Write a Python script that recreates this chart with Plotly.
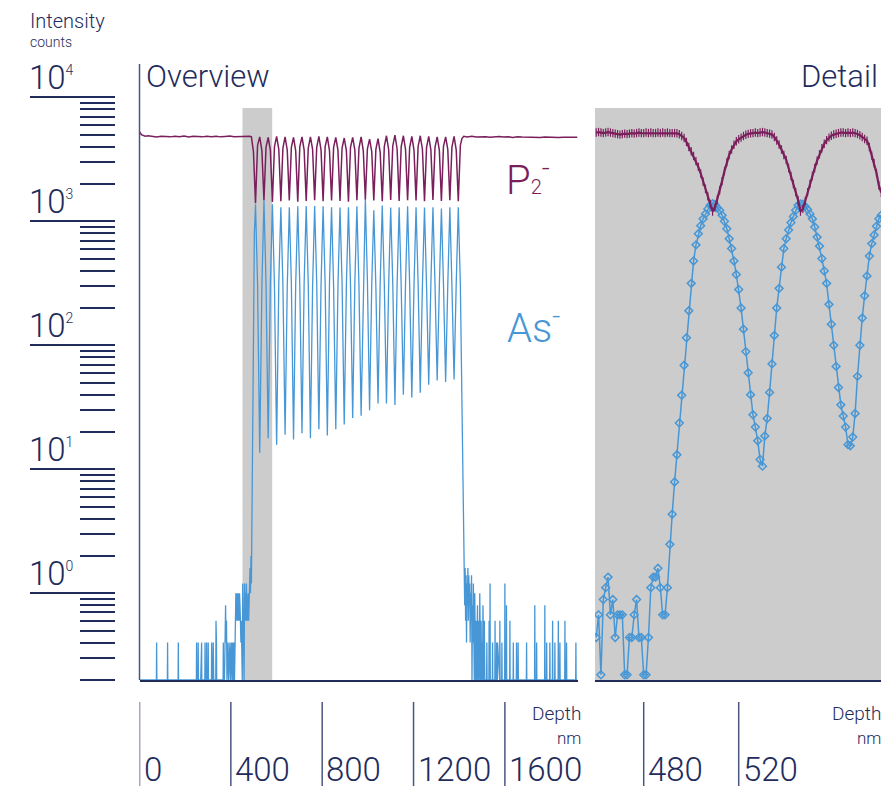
import plotly.graph_objects as go

# ---------------- colours / fonts ----------------
NAVY = "#1f2c5c"
AXIS_V = "#4b5680"
P2_COLOR = "#7a1f5c"
AS_COLOR = "#4797d6"
GRAY = "#cccccc"
FONT = "Roboto"
W, H = 883, 790

# ---------------- data: overview ----------------
# P2- before the superlattice (depth nm, counts)
ov_p2_pre_depth = [0, 3, 8, 15, 25, 38, 55, 75, 95, 115, 135, 155, 175, 195, 215,
                   235, 255, 275, 295, 315, 335, 355, 375, 395, 415, 435, 455, 470, 482, 490, 499]
ov_p2_pre = [5150, 5200, 5000, 4950, 4850, 4900, 4850, 4800, 4850, 4830, 4800, 4850, 4820, 4870, 4800,
             4850, 4830, 4800, 4860, 4820, 4850, 4800, 4840, 4870, 4820, 4850, 4880, 4840, 4860, 4800, 3650]

# superlattice: depth of P2 minima (= As maxima), rising flank, P2 maxima (= As minima), falling flank
sl_min_depth = [508, 545, 582, 619, 656, 693, 730, 767, 804, 841, 878, 915, 952, 989, 1026,
                1063, 1100, 1137, 1174, 1211, 1248, 1285, 1322, 1359, 1396]
sl_rise_depth = [517, 554, 591, 628, 665, 702, 739, 776, 813, 850, 887, 924, 961, 998,
                 1035, 1072, 1109, 1146, 1183, 1220, 1257, 1294, 1331, 1368]
sl_max_depth = [526.5, 563.5, 600.5, 637.5, 674.5, 711.5, 748.5, 785.5, 822.5, 859.5, 896.5, 933.5,
                970.5, 1007.5, 1044.5, 1081.5, 1118.5, 1155.5, 1192.5, 1229.5, 1266.5, 1303.5, 1340.5, 1377.5]
sl_fall_depth = [536, 573, 610, 647, 684, 721, 758, 795, 832, 869, 906, 943, 980, 1017,
                 1054, 1091, 1128, 1165, 1202, 1239, 1276, 1313, 1350, 1387]

sl_p2_min = [1400, 1480, 1430, 1450, 1470, 1440, 1460, 1480, 1450, 1470, 1460, 1440, 1480,
             1500, 1470, 1450, 1490, 1460, 1480, 1470, 1450, 1490, 1460, 1480, 1450]
sl_p2_rise = [4100, 3950, 4000, 3900, 3950, 4000, 3900, 3950, 4000, 3950, 3900, 3950,
              3900, 3850, 3800, 4000, 4050, 4000, 3950, 4000, 3950, 3950, 4000, 3950]
sl_p2_max = [4800, 4750, 4850, 4800, 4750, 4800, 4800, 4850, 4800, 4750, 4700, 4750,
             4800, 4600, 4650, 4900, 4950, 4900, 4850, 4900, 4850, 4800, 4800, 4850]
sl_p2_fall = [3700, 3750, 3800, 3750, 3700, 3750, 3800, 3750, 3700, 3750, 3700, 3750,
              3700, 3650, 3600, 3800, 3850, 3800, 3750, 3800, 3750, 3750, 3800, 3750]

sl_as_max = [1370, 1480, 1370, 1300, 1300, 1320, 1330, 1330, 1320, 1300, 1290, 1300, 1320,
             1520, 1230, 1340, 1290, 1300, 1320, 1300, 1290, 1300, 1270, 1300, 1300]
sl_as_rise = [310, 320, 300, 310, 320, 300, 310, 320, 310, 300, 320, 310,
              300, 330, 300, 310, 320, 300, 310, 320, 300, 310, 320, 310]
sl_as_min = [13.6, 17.8, 15.8, 19, 17.4, 19.5, 17.8, 21, 18.7, 21, 23, 25.9,
             27, 30, 34, 34, 33, 40, 38, 41.5, 48, 52, 50.5, 53]
sl_as_fall = [300, 310, 320, 300, 310, 320, 300, 310, 320, 300, 310, 320,
              300, 310, 320, 300, 310, 320, 300, 310, 320, 300, 310, 320]

# P2- after the superlattice
ov_p2_post_depth = [1405, 1412, 1420, 1435, 1455, 1475, 1495, 1515, 1535, 1555, 1575, 1595, 1615, 1635,
                    1655, 1675, 1695, 1715, 1735, 1755, 1775, 1795, 1815, 1835, 1855, 1875, 1895, 1918]
ov_p2_post = [4100, 4650, 4850, 4800, 4850, 4780, 4820, 4800, 4760, 4800, 4830, 4780, 4800, 4750,
              4800, 4780, 4760, 4800, 4780, 4750, 4790, 4760, 4780, 4740, 4770, 4750, 4780, 4760]

# As- noise before the superlattice (depth nm, counts)
ov_as_pre = [
    (0, 0.2), (74, 0.2), (75, 0.4), (76, 0.2), (122, 0.2), (123, 0.4), (124, 0.2),
    (169, 0.2), (170, 0.4), (171, 0.2), (249, 0.2), (250, 0.4), (251, 0.2), (256, 0.2),
    (257, 0.4), (258, 0.2), (268, 0.2), (269, 0.4), (270, 0.2), (272, 0.4), (273, 0.2),
    (286, 0.2), (287, 0.4), (288, 0.2), (293, 0.2), (294, 0.4), (295, 0.2), (300, 0.2),
    (301, 0.4), (302, 0.2), (315, 0.2), (316, 0.4), (318, 0.2), (322, 0.2), (323, 0.4),
    (325, 0.2), (334, 0.2), (335, 0.6), (336, 0.2), (337, 0.4), (338, 0.2), (366, 0.2),
    (367, 0.4), (368, 0.2), (372, 0.2), (373, 0.4), (375, 0.2), (377, 0.8), (379, 0.4),
    (381, 0.6), (383, 0.2), (385, 0.4), (388, 0.4), (390, 0.2), (393, 0.4), (396, 0.4),
    (398, 0.2), (401, 0.4), (403, 0.4), (405, 0.2), (408, 0.4), (410, 0.2), (414, 0.4),
    (416, 0.2), (420, 0.6), (422, 1.0), (424, 0.6), (426, 0.8), (428, 1.0), (430, 0.6),
    (432, 1.0), (434, 0.8), (436, 0.6), (438, 1.0), (440, 0.8), (442, 0.6), (444, 0.4),
    (446, 0.6), (448, 0.4), (450, 0.2), (452, 1.2), (454, 0.6), (456, 0.4), (458, 0.2),
    (460, 1.2), (462, 0.6), (464, 1.0), (466, 0.6), (468, 1.2), (470, 0.8), (472, 0.6),
    (474, 0.8), (476, 1.0), (478, 0.6), (480, 1.2), (482, 0.8), (484, 1.6), (486, 1.0),
    (488, 2.0), (490, 1.2), (492, 4), (494, 13), (496, 40), (499, 190), (503, 800),
]

# As- after the superlattice
ov_as_post = [
    (1405, 310), (1412, 30), (1418, 5), (1422, 1.8), (1424, 0.8), (1426, 1.6), (1428, 0.6),
    (1430, 1.4), (1432, 0.4), (1434, 1.2), (1436, 0.8), (1438, 1.6), (1440, 0.6), (1442, 1.4),
    (1444, 0.8), (1446, 1.2), (1448, 0.4), (1450, 1.0), (1452, 0.6), (1454, 1.4), (1456, 0.2),
    (1458, 0.8), (1460, 0.4), (1462, 1.2), (1464, 0.6), (1466, 0.2), (1468, 1.0), (1470, 0.4),
    (1472, 0.2), (1474, 0.6), (1476, 0.2), (1478, 0.4), (1480, 0.8), (1482, 0.2), (1484, 0.6),
    (1486, 0.4), (1488, 0.2), (1490, 1.0), (1492, 0.4), (1494, 0.2), (1496, 0.6), (1498, 0.2),
    (1500, 0.4), (1502, 0.2), (1504, 0.8), (1506, 0.4), (1508, 0.2), (1510, 0.6), (1512, 0.2),
    (1520, 0.2), (1521, 0.4), (1522, 0.2), (1530, 0.2), (1531, 0.6), (1532, 0.2), (1534, 0.2),
    (1535, 1.2), (1536, 0.2), (1545, 0.2), (1546, 0.4), (1547, 0.2), (1556, 0.2), (1557, 0.6),
    (1558, 0.2), (1563, 0.2), (1564, 0.4), (1565, 0.2), (1567, 0.2), (1568, 0.4), (1577, 0.2),
    (1578, 0.6), (1579, 0.2), (1586, 0.2), (1587, 0.4), (1588, 0.2), (1599, 0.2), (1600, 1.2),
    (1601, 0.2), (1606, 0.2), (1607, 0.8), (1608, 0.2), (1621, 0.2), (1622, 0.6), (1623, 0.2),
    (1636, 0.2), (1637, 0.4), (1638, 0.2), (1650, 0.2), (1651, 0.4), (1652, 0.2), (1657, 0.2),
    (1658, 0.4), (1659, 0.2), (1694, 0.2), (1695, 0.4), (1696, 0.2), (1730, 0.2), (1731, 0.8),
    (1732, 0.2), (1738, 0.2), (1739, 0.4), (1740, 0.2), (1774, 0.2), (1775, 0.8), (1776, 0.2),
    (1782, 0.2), (1783, 0.4), (1784, 0.2), (1796, 0.2), (1797, 0.4), (1798, 0.2), (1808, 0.2),
    (1809, 0.6), (1810, 0.2), (1818, 0.2), (1819, 0.4), (1820, 0.2), (1833, 0.2), (1834, 0.6),
    (1835, 0.2), (1840, 0.2), (1841, 0.4), (1842, 0.2), (1862, 0.2), (1863, 0.6), (1864, 0.2),
    (1869, 0.2), (1870, 0.4), (1871, 0.2), (1910, 0.2), (1911, 0.4), (1912, 0.2), (1918, 0.2),
]

# ---------------- data: detail ----------------
det_depth = [460, 461, 462, 463, 464, 465, 466, 467, 468, 469,
             470, 471, 472, 473, 474, 475, 476, 477, 478, 479,
             480, 481, 482, 483, 484, 485, 486, 487, 488, 489,
             490, 491, 492, 493, 494, 495, 496, 497, 498, 499,
             500, 501, 502, 503, 504, 505, 506, 507, 508, 509,
             510, 511, 512, 513, 514, 515, 516, 517, 518, 519,
             520, 521, 522, 523, 524, 525, 526, 527, 528, 529,
             530, 531, 532, 533, 534, 535, 536, 537, 538, 539,
             540, 541, 542, 543, 544, 545, 546, 547, 548, 549,
             550, 551, 552, 553, 554, 555, 556, 557, 558, 559,
             560, 561, 562, 563, 564, 565, 566, 567, 568, 569,
             570, 571, 572, 573, 574, 575, 576, 577, 578, 579,
             580]
det_p2 = [5200, 5250, 5200, 5150, 5200, 5250, 5200, 5150, 5100, 5050,
          5000, 5050, 5100, 5050, 5100, 5150, 5100, 5150, 5200, 5150,
          5150, 5200, 5150, 5200, 5150, 5150, 5200, 5150, 5200, 5150,
          5200, 5150, 5150, 5150, 5130, 5040, 4880, 4700, 4370, 3980,
          3670, 3370, 3060, 2750, 2430, 2090, 1830, 1590, 1380, 1200,
          1290, 1500, 1780, 2110, 2540, 2990, 3430, 3800, 4150, 4420,
          4590, 4730, 4880, 4990, 5070, 5130, 5150, 5200, 5150, 5200,
          5250, 5200, 5150, 5100, 5010, 4790, 4490, 4170, 3800, 3430,
          3130, 2690, 2320, 2000, 1720, 1480, 1200, 1260, 1460, 1720,
          2000, 2320, 2690, 3090, 3470, 3890, 4220, 4520, 4730, 4900,
          5010, 5080, 5150, 5200, 5200, 5150, 5200, 5150, 5200, 5150,
          5070, 4950, 4790, 4620, 4470, 3980, 3390, 2950, 2450, 1950,
          1700]
det_as = [0.44, 0.67, 0.22, 0.89, 1.11, 1.35, 0.67, 0.89, 0.44, 0.67,
          0.67, 0.67, 0.22, 0.22, 0.44, 0.44, 0.67, 0.89, 0.44, 0.44,
          0.22, 0.22, 0.44, 1.11, 1.35, 1.35, 1.59, 1.11, 0.67, 0.67,
          1.11, 2.48, 4.34, 7.9, 13.1, 23.6, 39.5, 69, 115, 190,
          316, 479, 646, 794, 923, 1047, 1148, 1259, 1349, 1390,
          1365, 1288, 1227, 1122, 1000, 871, 724, 603, 479, 372,
          282, 200, 135, 89, 60, 40, 27.5, 21.9, 17.0, 12.0,
          10.6, 18.6, 25.7, 41.7, 70.8, 120, 200, 288, 427, 603,
          724, 851, 977, 1096, 1227, 1346, 1380, 1374, 1318, 1245,
          1148, 1047, 899, 746, 631, 501, 398, 316, 214, 148,
          100, 67.6, 45.7, 33.1, 26.9, 21.9, 15.8, 15.5, 18.2, 28.2,
          56.2, 100, 166, 251, 363, 525, 661, 776, 912, 1047,
          1122]

# ---------------- axes / ticks ----------------
ov_ticks = [0, 400, 800, 1200, 1600]
det_ticks = [480, 520]
decades = [0, 1, 2, 3, 4]
mantissas = [2, 3, 4, 5, 6, 7, 8, 9]
minor_decades = [-1, 0, 1, 2, 3]
ov_range = [0, 1918]
det_range = [459.5, 579.9]
band = [451, 581]
y_range = [-0.6995, 4.269]


def fx(x):
    """screen pixel x -> paper fraction"""
    return x / W


def fy(y):
    """screen pixel y -> paper fraction"""
    return 1 - y / H


def interleave(*cols):
    out = []
    for i in range(len(cols[0])):
        for c in cols:
            if i < len(c):
                out.append(c[i])
    return out


sl_depth = interleave(sl_min_depth, sl_rise_depth, sl_max_depth, sl_fall_depth)
sl_p2 = interleave(sl_p2_min, sl_p2_rise, sl_p2_max, sl_p2_fall)
sl_as = interleave(sl_as_max, sl_as_rise, sl_as_min, sl_as_fall)

ov_p2_x = ov_p2_pre_depth + sl_depth + ov_p2_post_depth
ov_p2_y = ov_p2_pre + sl_p2 + ov_p2_post
ov_as_x = [d for d, _ in ov_as_pre] + sl_depth + [d for d, _ in ov_as_post]
ov_as_y = [v for _, v in ov_as_pre] + sl_as + [v for _, v in ov_as_post]

fig = go.Figure()

fig.add_trace(go.Scatter(x=ov_as_x, y=ov_as_y, mode="lines", xaxis="x", yaxis="y",
                         line=dict(color=AS_COLOR, width=1.3), hoverinfo="skip"))
fig.add_trace(go.Scatter(x=ov_p2_x, y=ov_p2_y, mode="lines", xaxis="x", yaxis="y",
                         line=dict(color=P2_COLOR, width=1.5), hoverinfo="skip"))

fig.add_trace(go.Scatter(x=det_depth, y=det_as, mode="lines+markers", xaxis="x2", yaxis="y",
                         line=dict(color=AS_COLOR, width=1.5),
                         marker=dict(symbol="diamond-open", size=6, color=AS_COLOR,
                                     line=dict(width=1.5, color=AS_COLOR)),
                         hoverinfo="skip"))
fig.add_trace(go.Scatter(x=det_depth, y=det_p2, mode="lines+markers", xaxis="x2", yaxis="y",
                         line=dict(color=P2_COLOR, width=2.2),
                         marker=dict(symbol="line-ns-open", size=6, color=P2_COLOR,
                                     line=dict(width=1.2, color=P2_COLOR)),
                         hoverinfo="skip"))

minor_vals = [m * 10 ** d for d in minor_decades for m in mantissas]

ov_dom = [fx(139.5), fx(577.5)]
det_dom = [fx(595), fx(881)]
y_dom = [fy(680), fy(64)]

fig.update_layout(
    width=W, height=H, margin=dict(l=0, r=0, t=0, b=0),
    paper_bgcolor="white", plot_bgcolor="rgba(0,0,0,0)",
    showlegend=False, hovermode=False,
    font=dict(family=FONT, color=NAVY),
    xaxis=dict(domain=ov_dom, range=ov_range, anchor="y", showline=True, linecolor=NAVY,
               linewidth=2, showgrid=False, zeroline=False, ticks="", showticklabels=False,
               fixedrange=True),
    xaxis2=dict(domain=det_dom, range=det_range, anchor="y", showline=True, linecolor=NAVY,
                linewidth=2, showgrid=False, zeroline=False, ticks="", showticklabels=False,
                fixedrange=True),
    yaxis=dict(type="log", domain=y_dom, range=y_range, anchor="free", position=fx(115),
               side="left", showline=False, showgrid=False, zeroline=False,
               ticks="outside", ticklen=85, tickwidth=1.8, tickcolor=NAVY,
               tickmode="array", tickvals=[10 ** d for d in decades], showticklabels=False,
               minor=dict(ticks="outside", ticklen=35, tickwidth=1.8, tickcolor=NAVY,
                          tickmode="array", tickvals=minor_vals, showgrid=False),
               fixedrange=True),
)

gray_top = (680 - 108) / (680 - 64)
shapes = [
    dict(type="rect", xref="x", yref="y domain", x0=band[0], x1=band[1], y0=0, y1=gray_top,
         fillcolor=GRAY, line=dict(width=0), layer="below"),
    dict(type="rect", xref="x2 domain", yref="y domain", x0=0, x1=1, y0=0, y1=gray_top,
         fillcolor=GRAY, line=dict(width=0), layer="below"),
    dict(type="line", xref="x domain", yref="y domain", x0=0, x1=0, y0=0, y1=1,
         line=dict(color=AXIS_V, width=1.5)),
]
for v in ov_ticks:
    shapes.append(dict(type="line", xref="x", yref="paper", x0=v, x1=v,
                       y0=fy(786), y1=fy(702), line=dict(color=AXIS_V, width=1.5)))
for v in det_ticks:
    shapes.append(dict(type="line", xref="x2", yref="paper", x0=v, x1=v,
                       y0=fy(786), y1=fy(702), line=dict(color=AXIS_V, width=1.5)))
fig.update_layout(shapes=shapes)

LIGHT = 300
ann = []


def txt(text, x, y, size, xref="paper", yref="paper", xanchor="left", yanchor="bottom",
        color=NAVY, xshift=0, yshift=0):
    ann.append(dict(text=text, x=x, y=y, xref=xref, yref=yref, xanchor=xanchor,
                    yanchor=yanchor, showarrow=False, borderpad=0, xshift=xshift, yshift=yshift,
                    font=dict(family=FONT, size=size, color=color, weight=LIGHT)))


txt("Intensity", fx(29), fy(34), 20)
txt("counts", fx(29), fy(51), 14)
for d in decades:
    txt("10<sup><span style='font-size:14px'>%d</span></sup>" % d, fx(28), d, 33,
        yref="y", yshift=-1)
txt("Overview", fx(145), fy(96), 31)
txt("Detail", 1, fy(96), 31, xref="x2 domain", xanchor="right", xshift=-2)
for v in ov_ticks:
    txt(str(v), v, fy(789.5), 33, xref="x", xshift=3)
for v in det_ticks:
    txt(str(v), v, fy(789.5), 33, xref="x2", xshift=3)
for right in (582, 882):
    txt("Depth", fx(right), fy(726), 19, xanchor="right")
    txt("nm", fx(right), fy(726.5), 17, xanchor="right", yanchor="top")
txt("P<span style='font-size:20px'>2</span><sup>-</sup>", fx(505), fy(205), 40,
    color=P2_COLOR)
txt("As<sup>-</sup>", fx(506), fy(353), 40, color=AS_COLOR)

fig.update_layout(annotations=ann)

# the page itself should add no margin around the 883x790 figure
fig.write_html("out.html", config={"displayModeBar": False},
               post_script="document.body.style.margin='0px';")
